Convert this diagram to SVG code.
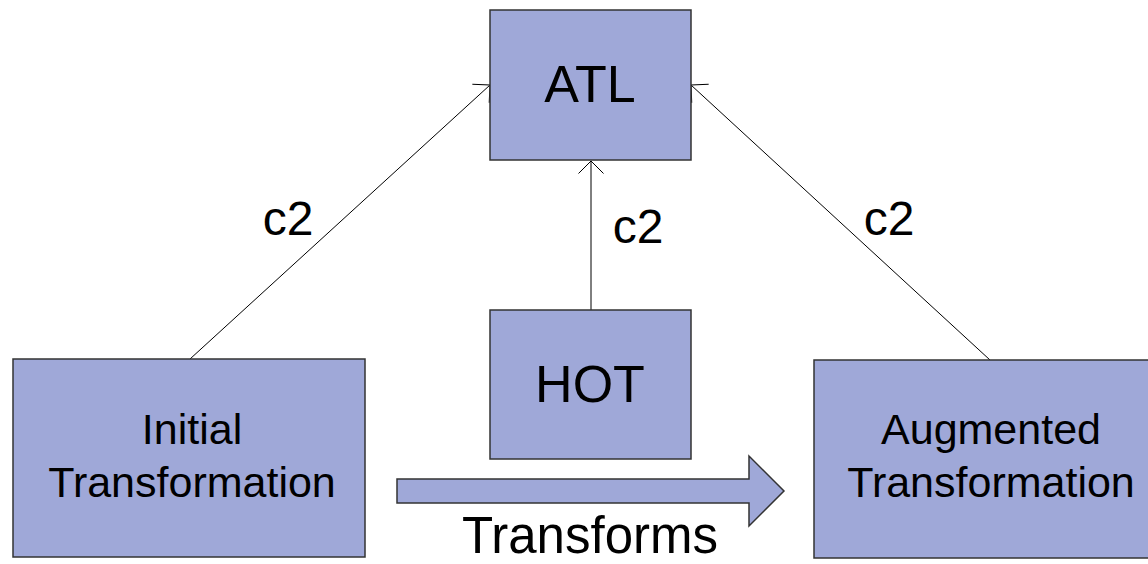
<svg xmlns="http://www.w3.org/2000/svg" width="1148" height="564" viewBox="0 0 1148 564">
  <style>
    .box { fill: #9fa8d8; stroke: #333333; stroke-width: 1.5; }
    .lbl { font-family: "Liberation Sans", Arial, sans-serif; fill: #000000; text-anchor: middle; }
    .big { font-size: 52px; }
    .tr { font-size: 51px; }
    .mid { font-size: 43px; }
    .c2 { font-size: 48px; }
    .conn { stroke: #000000; stroke-width: 1; fill: none; }
  </style>
  <defs>
    <marker id="open" markerUnits="userSpaceOnUse" markerWidth="30" markerHeight="30" viewBox="-15 -15 30 30" refX="0" refY="0" orient="auto">
      <path d="M-12.5,-12.5 L0,0 L-12.5,12.5" fill="none" stroke="#000000" stroke-width="1"/>
    </marker>
  </defs>
  <rect width="1148" height="564" fill="#ffffff"/>

  <g id="connectors">
    <line class="conn" x1="190" y1="359" x2="490" y2="85" marker-end="url(#open)"/>
    <line class="conn" x1="990" y1="360" x2="691" y2="85" marker-end="url(#open)"/>
    <line class="conn" x1="591" y1="310" x2="591" y2="161" marker-end="url(#open)"/>
    <text class="lbl c2" x="288" y="235">c2</text>
    <text class="lbl c2" x="638" y="243">c2</text>
    <text class="lbl c2" x="889" y="235">c2</text>
  </g>

  <g id="atl">
    <rect class="box" x="490" y="10" width="201" height="150"/>
    <text class="lbl big" x="590" y="102">ATL</text>
  </g>

  <g id="hot">
    <rect class="box" x="490" y="310" width="201" height="149"/>
    <text class="lbl big" x="590" y="402">HOT</text>
  </g>

  <g id="initial">
    <rect class="box" x="13" y="359" width="352" height="198"/>
    <text class="lbl mid" x="192" y="444">Initial</text>
    <text class="lbl mid" x="192" y="497">Transformation</text>
  </g>

  <g id="augmented">
    <rect class="box" x="814" y="360" width="356" height="198"/>
    <text class="lbl mid" x="991" y="444">Augmented</text>
    <text class="lbl mid" x="991" y="497">Transformation</text>
  </g>

  <g id="transforms">
    <polygon class="box" points="397,479 749,479 749,456 784,491 749,526 749,503 397,503"/>
    <text class="lbl tr" x="590" y="553">Transforms</text>
  </g>
</svg>
